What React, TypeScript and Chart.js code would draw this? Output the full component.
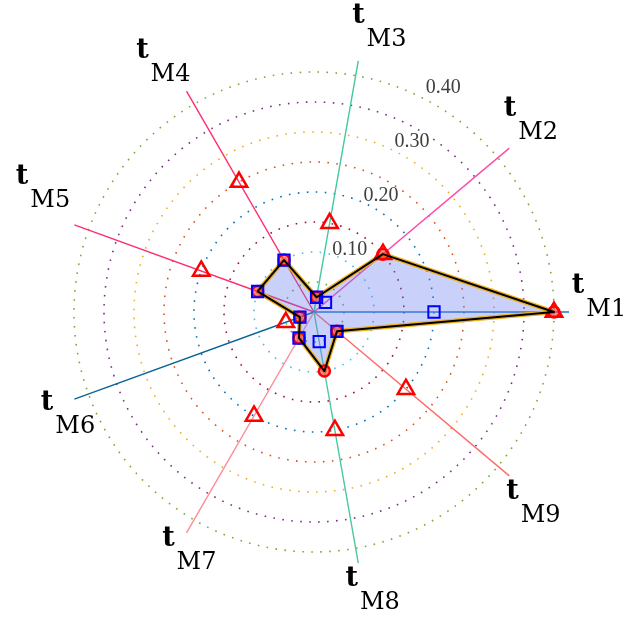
import React, { useEffect, useRef } from "react";
import { Chart, registerables } from "chart.js";

Chart.register(...registerables);

// ---- data (in M1..M9 order, counter-clockwise from the right) ----
const CATEGORIES = ["M1", "M2", "M3", "M4", "M5", "M6", "M7", "M8", "M9"];
const POLYGON_VALUES = [0.4, 0.15, 0.025, 0.1, 0.1, 0.025, 0.05, 0.1, 0.05];
const SQUARE_VALUES = [0.2, 0.025, 0.025, 0.1, 0.1, 0.025, 0.05, 0.05, 0.05];
const TRIANGLE_VALUES = [0.4, 0.15, 0.15, 0.25, 0.2, 0.05, 0.2, 0.2, 0.2];
const TICK_VALUES = [0.1, 0.2, 0.3, 0.4];
const TICK_LABELS = ["0.10", "0.20", "0.30", "0.40"];
const RING_STEP = 0.05;
const AXIS_MAX = 0.425;

// ---- styles ----
const RING_COLORS = [
  "#77AC30", // 0.05
  "#4DBEEE", // 0.10
  "#A2142F", // 0.15
  "#0072BD", // 0.20
  "#D95319", // 0.25
  "#EDB120", // 0.30
  "#7E2F8E", // 0.35
  "#77AC30", // 0.40
];
const AXIS_COLORS = [
  "#1f78c4", // M1
  "#ff4aa8", // M2
  "#40c9a2", // M3
  "#ff2d6e", // M4
  "#ff2d6e", // M5
  "#0a6496", // M6
  "#ff8a98", // M7
  "#4cc8a0", // M8
  "#ff6b6b", // M9
];
// label nudges (px) relative to the axis point at LABEL_DIST
const LABEL_DIST = 285;
const LABEL_NUDGE: [number, number][] = [
  [0, -15.5],
  [-1.5, -9.3],
  [15.8, -4.8],
  [-8.2, -3.2],
  [-3.2, -27],
  [21.8, 5],
  [17.8, -9.3],
  [9.1, -2.2],
  [1, 8.3],
];

// Chart.js radar runs clockwise; start at the right and go M1, M9, M8, ... M2
const DRAW_ORDER = [0, 8, 7, 6, 5, 4, 3, 2, 1];
const reorder = <T,>(arr: T[]) => DRAW_ORDER.map((i) => arr[i]);

const labelPlugin = {
  id: "customLabels",
  afterDraw(chart: any) {
    const scale = chart.scales.r;
    const ctx = chart.ctx as CanvasRenderingContext2D;
    ctx.save();
    // tick labels along 60°
    ctx.font = '20px "Liberation Serif", "Times New Roman", serif';
    ctx.fillStyle = "#404040";
    ctx.textAlign = "center";
    ctx.textBaseline = "middle";
    const a = (60 * Math.PI) / 180;
    TICK_VALUES.forEach((v, i) => {
      const r0 = scale.getDistanceFromCenterForValue(v);
      const r = r0 * 1.04 + 9;
      ctx.fillText(TICK_LABELS[i], scale.xCenter + r * Math.cos(a), scale.yCenter - r * Math.sin(a));
    });
    // axis labels t_{Mi}
    const tFont = 'bold 27px "DejaVu Serif", serif';
    const subFont = '24px "DejaVu Serif", serif';
    ctx.textAlign = "left";
    ctx.textBaseline = "alphabetic";
    ctx.fillStyle = "#000";
    const labels = scale.getLabels();
    labels.forEach((lab: string, idx: number) => {
      const catIdx = CATEGORIES.indexOf(lab);
      const p = scale.getPointPosition(idx, LABEL_DIST);
      const [nx, ny] = LABEL_NUDGE[catIdx];
      const cx = p.x + nx;
      const cy = p.y + ny;
      ctx.font = tFont;
      const wt = ctx.measureText("t").width;
      ctx.font = subFont;
      const ws = ctx.measureText(lab).width;
      const left = cx - (wt + ws + 2) / 2;
      const tBase = cy - 4;
      ctx.font = tFont;
      ctx.fillText("t", left, tBase);
      ctx.font = subFont;
      ctx.fillText(lab, left + wt + 2, tBase + 23);
    });
    ctx.restore();
  },
};

export default function App() {
  const ref = useRef<HTMLCanvasElement | null>(null);
  useEffect(() => {
    if (!ref.current) return;
    const labels = reorder(CATEGORIES);
    const chart = new Chart(ref.current, {
      type: "radar",
      data: {
        labels,
        datasets: [
          {
            label: "outline",
            data: reorder(POLYGON_VALUES),
            borderColor: "#000000",
            borderWidth: 2,
            backgroundColor: "rgba(0,0,0,0)",
            fill: false,
            pointRadius: 0,
            order: 0,
          },
          {
            label: "triangles",
            data: reorder(TRIANGLE_VALUES),
            showLine: false,
            fill: false,
            backgroundColor: "rgba(0,0,0,0)",
            pointStyle: "triangle",
            pointRadius: 9.5,
            pointBorderWidth: 2.5,
            pointBorderColor: "#ff0000",
            pointBackgroundColor: "rgba(0,0,0,0)",
            order: 1,
          },
          {
            label: "squares",
            data: reorder(SQUARE_VALUES),
            showLine: false,
            fill: false,
            backgroundColor: "rgba(0,0,0,0)",
            pointStyle: "rect",
            pointRadius: 8,
            pointBorderWidth: 2,
            pointBorderColor: "#0000ff",
            pointBackgroundColor: "rgba(0,0,0,0)",
            order: 2,
          },
          {
            label: "polygon",
            data: reorder(POLYGON_VALUES),
            borderColor: "#EDB120",
            borderWidth: 4.5,
            backgroundColor: "rgba(100,120,240,0.35)",
            fill: true,
            pointStyle: "circle",
            pointRadius: 5.5,
            pointBorderWidth: 2.5,
            pointBorderColor: "#ff0000",
            pointBackgroundColor: "rgba(255,40,60,0.55)",
            order: 3,
          },
        ],
      },
      options: {
        responsive: false,
        animation: false,
        events: [],
        layout: { padding: { left: 59, right: 73, top: 57, bottom: 51 } },
        plugins: { legend: { display: false }, tooltip: { enabled: false } },
        elements: { line: { tension: 0, borderJoinStyle: "round" } },
        scales: {
          r: {
            min: 0,
            max: AXIS_MAX,
            startAngle: 90,
            ticks: { display: false, stepSize: RING_STEP, showLabelBackdrop: false },
            pointLabels: { display: false },
            grid: {
              circular: true,
              lineWidth: 1.6,
              color: (c: any) => RING_COLORS[c.index - 1] ?? "rgba(0,0,0,0)",
            },
            border: { dash: [1.6, 7.4] },
            angleLines: {
              display: true,
              lineWidth: 1.4,
              color: (c: any) => AXIS_COLORS[CATEGORIES.indexOf(labels[c.index])],
            },
          },
        },
      } as any,
      plugins: [labelPlugin],
    });
    return () => chart.destroy();
  }, []);
  return (
    <canvas
      ref={ref}
      width={642}
      height={618}
      style={{ display: "block", position: "absolute", left: 0, top: 0 }}
    />
  );
}
